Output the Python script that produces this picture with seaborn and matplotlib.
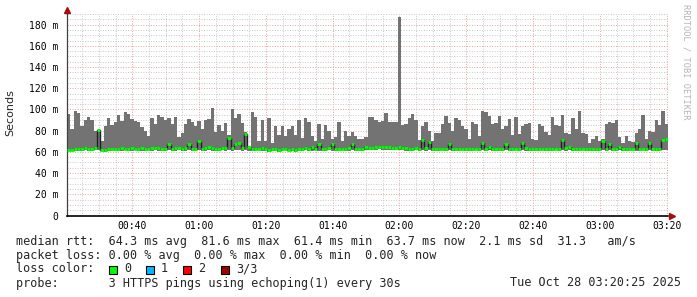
import numpy as np
import matplotlib
matplotlib.use("Agg")
import matplotlib.pyplot as plt
import seaborn as sns
from matplotlib.ticker import MultipleLocator, FixedLocator, FixedFormatter
from matplotlib.patches import Rectangle

# ---------------- data (ms, one value per minute from 00:20:25) ----------------
start_minute = 20 + 25 / 60.0

max_vals = [
    96, 82, 99, 97, 84, 90, 93, 90, 80, 79,
    70, 84, 92, 85, 88, 95, 89, 98, 96, 91,
    89, 88, 83, 80, 75, 92, 86, 95, 93, 90,
    92, 86, 93, 74, 78, 86, 91, 88, 84, 89,
    82, 90, 91, 101, 79, 85, 80, 87, 76, 100,
    92, 96, 87, 79, 66, 98, 93, 70, 90, 70,
    92, 68, 84, 76, 84, 75, 82, 84, 76, 90,
    73, 92, 88, 75, 70, 86, 72, 85, 80, 72,
    74, 88, 70, 80, 75, 79, 75, 72, 72, 74,
    93, 93, 90, 88, 89, 97, 88, 88, 88, 187,
    85, 86, 92, 96, 90, 71, 84, 88, 80, 70,
    78, 78, 86, 94, 87, 80, 92, 90, 84, 82,
    72, 88, 86, 75, 99, 98, 94, 86, 87, 94,
    82, 84, 91, 76, 93, 77, 84, 86, 87, 72,
    71, 86, 84, 79, 76, 93, 85, 84, 95, 78,
    77, 92, 82, 99, 78, 77, 68, 72, 75, 70,
    72, 86, 88, 87, 90, 74, 68, 75, 70, 69,
    78, 82, 95, 72, 80, 79, 90, 85, 99, 86,
]

median_vals = [
    62, 62, 63, 63, 63, 64, 63, 63, 64, 81,
    62, 62, 63, 63, 63, 63, 64, 63, 63, 64,
    63, 63, 64, 63, 63, 64, 64, 64, 63, 63,
    67, 63, 64, 64, 63, 64, 67, 63, 63, 70,
    63, 64, 65, 64, 63, 63, 64, 64, 73, 64,
    67, 68, 64, 77, 65, 63, 63, 63, 64, 63,
    62, 63, 63, 62, 63, 63, 62, 63, 62, 63,
    63, 64, 63, 65, 63, 67, 63, 63, 64, 67,
    63, 63, 63, 63, 64, 67, 63, 63, 63, 65,
    64, 64, 65, 65, 65, 65, 65, 64, 64, 65,
    64, 64, 63, 63, 64, 63, 71, 64, 69, 63,
    63, 63, 63, 63, 67, 63, 63, 63, 63, 63,
    63, 63, 63, 63, 68, 63, 65, 63, 63, 63,
    63, 67, 63, 63, 63, 63, 68, 64, 63, 63,
    63, 63, 63, 63, 63, 63, 63, 63, 71, 64,
    65, 63, 63, 63, 63, 63, 63, 63, 63, 63,
    70, 63, 67, 63, 63, 65, 63, 63, 63, 63,
    68, 63, 63, 63, 68, 63, 63, 63, 71, 72,
]

min_vals = [
    61, 61, 62, 61, 61, 62, 61, 61, 62, 62,
    61, 60, 61, 61, 62, 61, 61, 62, 61, 61,
    62, 61, 61, 61, 62, 61, 62, 61, 61, 61,
    62, 61, 61, 62, 61, 61, 62, 61, 61, 62,
    61, 61, 62, 61, 61, 61, 62, 61, 62, 61,
    62, 62, 61, 62, 61, 61, 61, 62, 61, 61,
    60, 61, 61, 60, 61, 62, 61, 61, 60, 61,
    61, 62, 61, 61, 62, 61, 61, 61, 62, 61,
    61, 61, 62, 61, 61, 62, 61, 61, 61, 62,
    62, 62, 62, 63, 62, 62, 62, 62, 62, 62,
    62, 61, 61, 61, 62, 61, 62, 61, 62, 61,
    61, 61, 62, 61, 62, 61, 61, 61, 62, 61,
    61, 61, 62, 61, 62, 61, 62, 61, 61, 61,
    61, 62, 61, 61, 62, 61, 62, 61, 61, 61,
    61, 61, 62, 61, 61, 61, 62, 61, 62, 61,
    62, 61, 61, 61, 62, 61, 61, 61, 61, 61,
    62, 61, 62, 61, 61, 62, 61, 61, 61, 62,
    61, 61, 62, 61, 62, 61, 61, 61, 62, 62,
]

xtick_minutes = [40, 60, 80, 100, 120, 140, 160, 180, 200]
xtick_labels = ["00:40", "01:00", "01:20", "01:40", "02:00", "02:20", "02:40", "03:00", "03:20"]
ytick_values = [0, 20, 40, 60, 80, 100, 120, 140, 160, 180]
ytick_labels = ["0", "20 m", "40 m", "60 m", "80 m", "100 m", "120 m", "140 m", "160 m", "180 m"]

legend_lines = [
    "median rtt:  64.3 ms avg  81.6 ms max  61.4 ms min  63.7 ms now  2.1 ms sd  31.3   am/s",
    "packet loss: 0.00 % avg  0.00 % max  0.00 % min  0.00 % now",
    "loss color:",
    "probe:       3 HTTPS pings using echoping(1) every 30s",
]
loss_labels = ["0", "1", "2", "3/3"]
loss_colors = ["#00ff00", "#00b8ff", "#ff0000", "#a00000"]
date_text = "Tue Oct 28 03:20:25 2025"

# ---------------- figure ----------------
sns.set_style("white")
plt.rcParams["font.family"] = ["DejaVu Sans Mono", "DejaVu Sans"]

W, H = 697, 297
fig = plt.figure(figsize=(W / 100, H / 100), dpi=100)
fig.patch.set_facecolor("white")

def fx(px):
    return px / W

def fy(py):
    return 1 - py / H

ax_left, ax_right, ax_top, ax_bottom = 67, 668, 14, 215.5
ax = fig.add_axes([fx(ax_left), fy(ax_bottom), fx(ax_right - ax_left), (ax_bottom - ax_top) / H])
ax.set_facecolor("white")

n = len(max_vals)
t = start_minute + np.arange(n)
t_ext = np.append(t, t[-1] + 1)
max_ext = np.append(max_vals, max_vals[-1])
min_ext = np.append(min_vals, min_vals[-1])
med_ext = np.append(median_vals, median_vals[-1])

# smoke
ax.fill_between(t_ext, min_ext, max_ext, step="post", color="#737373", lw=0, zorder=2)
# median: dark connectors + green segments
sns.lineplot(x=t_ext, y=med_ext, drawstyle="steps-post", color="#202020", lw=1.0,
             ax=ax, zorder=3, estimator=None, sort=False)
ax.hlines(median_vals, t, t + 1, colors=loss_colors[0], lw=2.0, zorder=4)

ax.set_xlim(start_minute, start_minute + 180)
ax.set_ylim(0, 190)

# grid
ax.xaxis.set_major_locator(FixedLocator(xtick_minutes))
ax.xaxis.set_major_formatter(FixedFormatter(xtick_labels))
ax.xaxis.set_minor_locator(MultipleLocator(5))
ax.yaxis.set_major_locator(FixedLocator(ytick_values))
ax.yaxis.set_major_formatter(FixedFormatter(ytick_labels))
ax.yaxis.set_minor_locator(MultipleLocator(5))
ax.set_axisbelow(True)
ax.grid(which="minor", color="#c8c8c8", lw=0.7, linestyle=(0, (1, 1.6)), zorder=0)
ax.grid(which="major", color="#eda0a0", lw=0.7, linestyle=(0, (1, 1.6)), zorder=1)

for s in ["top", "right"]:
    ax.spines[s].set_visible(False)
ax.spines["left"].set_color("#404040")
ax.spines["left"].set_linewidth(0.9)
ax.spines["bottom"].set_color("#000000")
ax.spines["bottom"].set_linewidth(1.2)

ax.tick_params(axis="both", which="major", length=2.5, width=0.7, color="#404040",
               labelsize=7, labelcolor="#000000", direction="out")
ax.tick_params(axis="both", which="minor", length=1.5, width=0.6, color="#606060", direction="out")
ax.tick_params(axis="x", which="major", pad=1.5)
ax.tick_params(axis="y", which="major", pad=3.5)
ax.set_xlabel("")
ax.set_ylabel("")

# axis arrows
ax.plot([0, 0], [1.0, 1.02], transform=ax.transAxes, color="#404040", lw=0.9, clip_on=False)
ax.plot([0], [1.02], transform=ax.transAxes, marker="^", markersize=4.5, color="#a01010",
        clip_on=False, zorder=6)
ax.plot([1.006], [0], transform=ax.transAxes, marker=">", markersize=4.5, color="#a01010",
        clip_on=False, zorder=6)

# labels
fig.text(fx(10), fy(113), "Seconds", rotation=90, ha="center", va="center",
         fontsize=8, family="DejaVu Sans")
fig.text(fx(686), fy(4), "RRDTOOL / TOBI OETIKER", rotation=270, ha="center", va="top",
         fontsize=6.2, color="#b5b5b5", family="DejaVu Sans Mono")

fs = 8.5
row_y = [241, 255, 269, 283]
for txt, ry in zip(legend_lines, row_y):
    fig.text(fx(16), fy(ry), txt, ha="left", va="center", fontsize=fs, family="DejaVu Sans Mono")
fig.text(fx(681), fy(283), date_text, ha="right", va="center", fontsize=fs, family="DejaVu Sans Mono")

box_x = [109, 146, 183, 221]
for bx, col, lab in zip(box_x, loss_colors, loss_labels):
    fig.add_artist(Rectangle((fx(bx), fy(273.5)), fx(8), 8 / H, transform=fig.transFigure,
                             facecolor=col, edgecolor="#000000", lw=0.8))
    fig.text(fx(bx + 15), fy(269), lab, ha="left", va="center", fontsize=fs, family="DejaVu Sans Mono")

fig.savefig("out.png", dpi=100, facecolor="white")
